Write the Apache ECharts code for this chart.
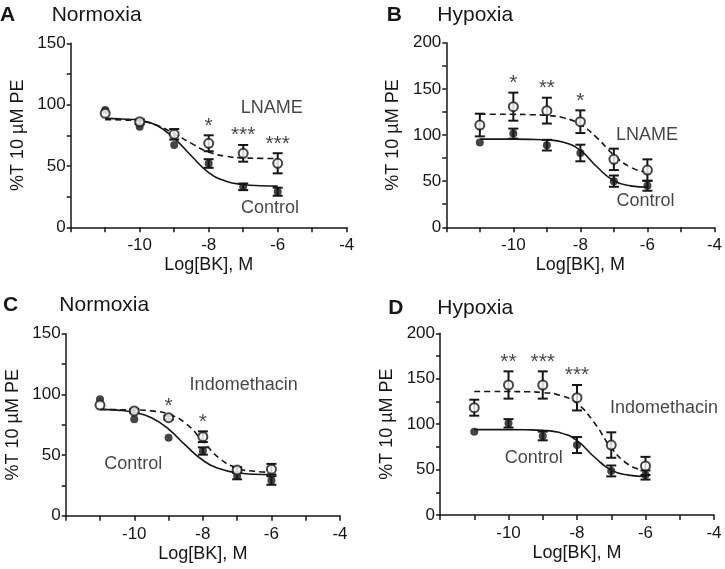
<!DOCTYPE html>
<html>
<head>
<meta charset="utf-8">
<script src="https://cdn.jsdelivr.net/npm/echarts@6/dist/echarts.min.js"></script>
<style>
html,body{margin:0;padding:0;background:#fff;}
#chart{width:725px;height:569px;}
</style>
</head>
<body>
<div id="chart"></div>
<script>
// ---------- data ----------
const doseX = [-11, -10, -9, -8, -7, -6];
const fitX = [-11, -10.5, -10, -9.5, -9, -8.5, -8, -7.5, -7, -6.5, -6];
const xTicks = [-10, -8, -6, -4];

// Panel A: Normoxia, LNAME
const aCtrl    = [95.6, 82, 67, 52, 33, 29];
const aCtrlErr = [0, 0, 0, 3.5, 2.7, 3.3];
const aTrt     = [92.9, 86, 75.8, 68.5, 60.3, 52.2];
const aTrtErr  = [0, 2, 4.3, 6.5, 6.8, 8.2];
const aCtrlFit = [88.8, 88.3, 87.2, 83, 72.5, 58.1, 44.6, 37.6, 34.9, 33.9, 33.6];
const aTrtFit  = [87.8, 87.5, 86.5, 83.2, 76.3, 68.4, 61.3, 57.9, 56.6, 56.2, 56.1];
const aSig     = ['', '', '', '*', '***', '***'];

// Panel B: Hypoxia, LNAME
const bCtrl    = [92, 101.5, 89, 80.5, 50, 45];
const bCtrlErr = [0, 5.4, 5.8, 9, 6.1, 5.4];
const bTrt     = [110.8, 130.7, 126.4, 114.4, 73.6, 62];
const bTrtErr  = [12.3, 15.2, 14, 12.3, 11.6, 11.6];
const bCtrlFit = [95.5, 95.5, 95.5, 95.3, 94.7, 92.2, 83.3, 65.3, 50.5, 44.9, 43.4];
const bTrtFit  = [122.5, 122.5, 122.4, 122.1, 121.2, 118.6, 111.4, 96.8, 78.2, 65.1, 59.2];
const bSig     = ['', '*', '**', '*', '', ''];

// Panel C: Normoxia, Indomethacin
const cCtrl    = [95.9, 79.4, 64.3, 53.3, 32.7, 29];
const cCtrlErr = [0, 0, 0, 3, 2.7, 3.5];
const cTrt     = [91.2, 86.3, 80.8, 65.1, 37.7, 38.3];
const cTrtErr  = [0, 1.5, 1.5, 4.4, 2.2, 4.4];
const cCtrlFit = [87.6, 87.0, 85.2, 80.7, 71.4, 57.9, 45.7, 38.6, 35.4, 34.2, 33.8];
const cTrtFit  = [87.5, 87.4, 87.2, 86.4, 83.7, 76.1, 61.5, 46.9, 39.3, 36.6, 35.8];
const cSig     = ['', '', '*', '*', '', ''];

// Panel D: Hypoxia, Indomethacin
const dCtrl    = [91.7, 100.9, 87, 77, 48.5, 44];
const dCtrlErr = [0, 4.6, 4.8, 8.8, 6, 5];
const dTrt     = [118.1, 143.1, 143.1, 129.1, 77, 54];
const dTrtErr  = [8.8, 15, 15, 14, 14, 10];
const dCtrlFit = [94, 94, 94, 93.8, 93.2, 90.7, 81.9, 64.1, 49.4, 43.9, 42.4];
const dTrtFit  = [136, 136, 135.9, 135.7, 134.8, 131.8, 122.8, 101.9, 74, 55.6, 48.3];
const dSig     = ['', '**', '***', '***', '', ''];

// curve name labels (data coordinates)
const aLabels = [{x: -6.17, y: 97.3, t: 'LNAME'}, {x: -6.22, y: 15.5, t: 'Control'}];
const bLabels = [{x: -6.01, y: 100, t: 'LNAME'}, {x: -6.06, y: 28.5, t: 'Control'}];
const cLabels = [{x: -6.81, y: 107.7, t: 'Indomethacin'}, {x: -10.03, y: 42.6, t: 'Control'}];
const dLabels = [{x: -5.46, y: 117.4, t: 'Indomethacin'}, {x: -9.26, y: 62.4, t: 'Control'}];

const yMaxes = [150, 200, 150, 200];
const panelLetters = ['A', 'B', 'C', 'D'];
const panelTitles = ['Normoxia', 'Hypoxia', 'Normoxia', 'Hypoxia'];
const yTitle = '%T 10 µM PE';
const xTitle = 'Log[BK], M';

// ---------- layout / style ----------
const INK = '#161616';
const FONT = '"Liberation Sans", Arial, sans-serif';
const grids = [
  {left: 70.7, top: 43.3, width: 276, height: 184},
  {left: 446.3, top: 42.7, width: 273.7, height: 184.6},
  {left: 65.7, top: 333.7, width: 274.3, height: 182},
  {left: 440, top: 333.3, width: 274, height: 181.7}
];
const titlePos = [
  {lx: 0, tx: 51.7, y: 15},
  {lx: 386.7, tx: 437.3, y: 15},
  {lx: 3, tx: 59.3, y: 305.7},
  {lx: 388.3, tx: 437.3, y: 308.3}
];

const panels = [
  {ctrl: aCtrl, ctrlErr: aCtrlErr, trt: aTrt, trtErr: aTrtErr, cf: aCtrlFit, tf: aTrtFit, sig: aSig, labels: aLabels},
  {ctrl: bCtrl, ctrlErr: bCtrlErr, trt: bTrt, trtErr: bTrtErr, cf: bCtrlFit, tf: bTrtFit, sig: bSig, labels: bLabels},
  {ctrl: cCtrl, ctrlErr: cCtrlErr, trt: cTrt, trtErr: cTrtErr, cf: cCtrlFit, tf: cTrtFit, sig: cSig, labels: cLabels},
  {ctrl: dCtrl, ctrlErr: dCtrlErr, trt: dTrt, trtErr: dTrtErr, cf: dCtrlFit, tf: dTrtFit, sig: dSig, labels: dLabels}
];

function errRender(params, api) {
  const x = api.value(0), m = api.value(1), e = api.value(2);
  if (!e) return null;
  const top = api.coord([x, m + e]);
  const bot = api.coord([x, m - e]);
  const hw = 5;
  const st = {stroke: INK, lineWidth: 2};
  return {
    type: 'group',
    children: [
      {type: 'line', shape: {x1: top[0], y1: top[1], x2: bot[0], y2: bot[1]}, style: st},
      {type: 'line', shape: {x1: top[0] - hw, y1: top[1], x2: top[0] + hw, y2: top[1]}, style: st},
      {type: 'line', shape: {x1: bot[0] - hw, y1: bot[1], x2: bot[0] + hw, y2: bot[1]}, style: st}
    ]
  };
}

const option = {
  animation: false,
  backgroundColor: '#ffffff',
  textStyle: {fontFamily: FONT, color: INK},
  grid: grids.map(g => Object.assign({containLabel: false}, g)),
  xAxis: [], yAxis: [], series: [], graphic: []
};

panels.forEach((p, i) => {
  option.xAxis.push({
    type: 'value', gridIndex: i, min: -12, max: -4, interval: 1,
    name: xTitle, nameLocation: 'middle', nameGap: 29,
    nameTextStyle: {fontSize: 18, color: INK, fontFamily: FONT},
    axisLine: {show: true, lineStyle: {color: INK, width: 1.5}},
    axisTick: {show: true, length: 5, inside: false, lineStyle: {color: INK, width: 1.5}},
    axisLabel: {
      fontSize: 17, color: INK, fontFamily: FONT, margin: 10,
      formatter: v => (xTicks.indexOf(v) >= 0 ? String(v) : '')
    },
    splitLine: {show: false}
  });
  option.yAxis.push({
    type: 'value', gridIndex: i, min: 0, max: yMaxes[i], interval: 25,
    name: yTitle, nameLocation: 'middle', nameGap: 44, nameRotate: 90,
    nameTextStyle: {fontSize: 18, color: INK, fontFamily: FONT},
    axisLine: {show: true, lineStyle: {color: INK, width: 1.5}},
    axisTick: {show: true, length: 4, inside: false, lineStyle: {color: INK, width: 1.5}},
    axisLabel: {
      fontSize: 17, color: INK, fontFamily: FONT, margin: 5,
      formatter: v => (v % 50 === 0 ? String(v) : '')
    },
    splitLine: {show: false}
  });

  const ax = {xAxisIndex: i, yAxisIndex: i};
  // fitted curves
  option.series.push(Object.assign({
    type: 'line', data: fitX.map((x, k) => [x, p.cf[k]]), showSymbol: false, symbol: 'none',
    smooth: 0.5, z: 2,
    lineStyle: {color: INK, width: 1.6, type: 'solid'}
  }, ax));
  option.series.push(Object.assign({
    type: 'line', data: fitX.map((x, k) => [x, p.tf[k]]), showSymbol: false, symbol: 'none',
    smooth: 0.5, z: 2,
    lineStyle: {color: INK, width: 1.6, type: [6, 4]}
  }, ax));
  // error bars
  option.series.push(Object.assign({
    type: 'custom', renderItem: errRender, z: 3,
    dimensions: ['x', 'm', 'e'], encode: {x: 0, y: 1},
    data: doseX.map((x, k) => [x, p.ctrl[k], p.ctrlErr[k]])
  }, ax));
  option.series.push(Object.assign({
    type: 'custom', renderItem: errRender, z: 3,
    dimensions: ['x', 'm', 'e'], encode: {x: 0, y: 1},
    data: doseX.map((x, k) => [x, p.trt[k], p.trtErr[k]])
  }, ax));
  // markers
  option.series.push(Object.assign({
    type: 'scatter', symbol: 'circle', symbolSize: 8, z: 4,
    itemStyle: {color: INK},
    data: doseX.map((x, k) => [x, p.ctrl[k]])
  }, ax));
  option.series.push(Object.assign({
    type: 'scatter', symbol: 'circle', symbolSize: 9, z: 5,
    itemStyle: {color: '#ffffff', borderColor: INK, borderWidth: 2},
    data: doseX.map((x, k) => [x, p.trt[k]])
  }, ax));
  // significance asterisks
  option.series.push(Object.assign({
    type: 'scatter', symbolSize: 0, z: 6,
    data: doseX.map((x, k) => [x, p.trt[k] + p.trtErr[k], p.sig[k]]).filter(d => d[2]),
    label: {show: true, position: 'top', distance: -1, formatter: q => q.data[2],
      fontSize: 21, color: INK, fontFamily: FONT, textBorderWidth: 0}
  }, ax));
  // curve labels
  option.series.push(Object.assign({
    type: 'scatter', symbolSize: 0, z: 6,
    data: p.labels.map(l => [l.x, l.y, l.t]),
    label: {show: true, position: [0, 0], align: 'center', verticalAlign: 'middle',
      formatter: q => q.data[2],
      fontSize: 18, color: INK, fontFamily: FONT, textBorderWidth: 0}
  }, ax));

  // panel titles
  const tp = titlePos[i];
  option.graphic.push({
    type: 'text', x: tp.lx, y: tp.y,
    style: {text: panelLetters[i], font: 'bold 21px ' + FONT, fill: INK, verticalAlign: 'middle'}
  });
  option.graphic.push({
    type: 'text', x: tp.tx, y: tp.y,
    style: {text: panelTitles[i], font: '21px ' + FONT, fill: INK, verticalAlign: 'middle'}
  });
});

const chart = echarts.init(document.getElementById('chart'), null, {renderer: 'canvas'});
chart.setOption(option);
</script>
</body>
</html>
